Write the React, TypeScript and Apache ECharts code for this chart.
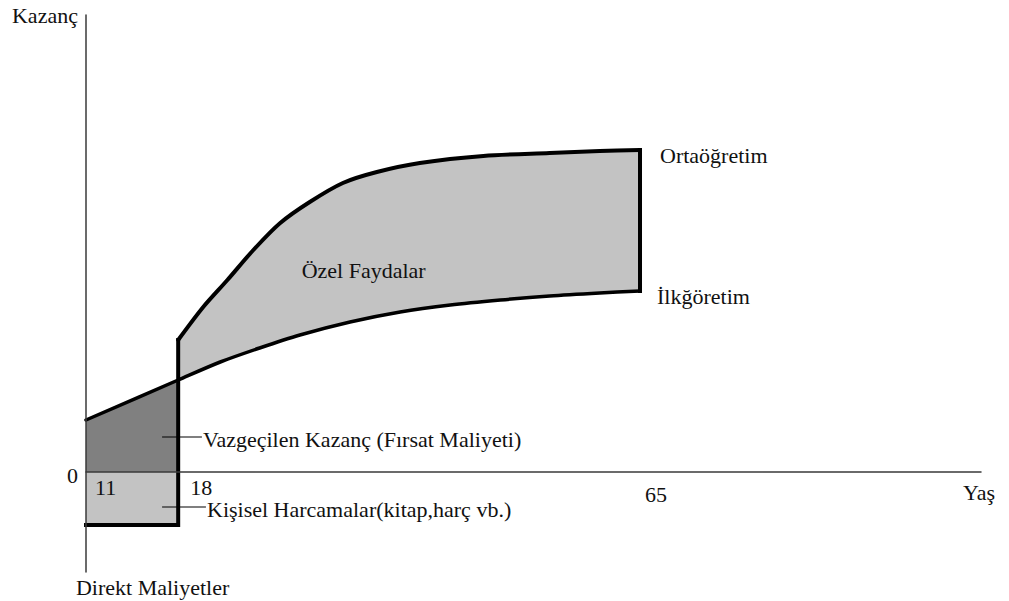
import React, { useEffect, useRef } from "react";
import * as echarts from "echarts";

// Schematic age positions on the horizontal axis (age 11, 18, 65)
const ageTickLabels = ["11", "18", "65"];
const ageTickPos = [0, 10.3, 61.9];

// İlköğretim (primary education) earnings profile
const primaryX = [0, 10.3, 15, 19.4, 23.9, 29.5, 35.1, 40.7, 46.3, 51.8, 57.4, 61.9];
const primaryY = [10.4, 18.4, 22, 24.8, 27.4, 30, 32, 33.4, 34.4, 35.2, 35.8, 36.2];

// Ortaöğretim (secondary education) earnings profile, from age 18 to 65
const secondaryX = [10.3, 13.1, 15.8, 18.7, 21.7, 25.0, 28.7, 32.5, 37.3, 44.4, 51.8, 57.4, 61.9];
const secondaryY = [26.4, 33, 38.4, 44.4, 49.8, 54, 57.8, 60, 61.8, 63.2, 63.8, 64.2, 64.4];

// Direct costs level (below zero) during schooling
const directCost = -10.6;

export default function App() {
  const ref = useRef<HTMLDivElement>(null);

  useEffect(() => {
    document.body.style.margin = "0";
    const chart = echarts.init(ref.current!, null, { renderer: "svg" });

    const start = ageTickPos[0];
    const s18 = ageTickPos[1];
    const s65 = ageTickPos[2];
    const lastP = primaryY[primaryY.length - 1];
    const lastS = secondaryY[secondaryY.length - 1];

    const primaryPts = primaryX.map((x, i) => [x, primaryY[i]]);
    const secondaryPts = secondaryX.map((x, i) => [x, secondaryY[i]]);

    const benefitPoly = [
      ...secondaryPts,
      [s65, lastP],
      ...primaryPts.filter((p) => p[0] >= s18).reverse(),
    ];
    const forgonePoly = [
      [start, 0],
      ...primaryPts.filter((p) => p[0] <= s18),
      [s18, 0],
    ];
    const directPoly = [
      [start, 0],
      [s18, 0],
      [s18, directCost],
      [start, directCost],
    ];

    const poly = (name: string, pts: number[][], color: string) => ({
      type: "custom",
      name,
      data: [0],
      z: 1,
      silent: true,
      renderItem: (_p: any, api: any) => ({
        type: "polygon",
        shape: { points: pts.map((p) => api.coord(p)) },
        style: { fill: color, stroke: null },
      }),
    });

    const fontStr = '22px "Liberation Serif", "Times New Roman", serif';
    const textColor = "#111";

    // label: [text, dataX, dataY, pixel dx, pixel dy]
    const labels: [string, number, number, number, number][] = [
      ["Kazanç", -8.27, 91.3, 0, 0],
      ["Direkt Maliyetler", -1.12, -23.1, 0, 0],
      ["0", -2.12, -0.7, 0, 0],
      [ageTickLabels[0], ageTickPos[0], -3.1, 9, 0],
      [ageTickLabels[1], ageTickPos[1], -3.1, 12, 0],
      [ageTickLabels[2], ageTickPos[2], -4.5, 5, 0],
      ["Yaş", 98.0, -4.1, 0, 0],
      ["Ortaöğretim", s65, lastS, 20, 5.5],
      ["İlkğöretim", s65, lastP, 17, 5.5],
      ["Özel Faydalar", 24.1, 40.3, 0, 0],
      ["Vazgeçilen Kazanç (Fırsat Maliyeti)", 13.07, 6.5, 0, 0],
      ["Kişisel Harcamalar(kitap,harç vb.)", 13.52, -7.5, 0, 0],
    ];

    // leader lines: [x1, x2, y]
    const leaders: [number, number, number][] = [
      [8.5, 12.95, 7],
      [8.5, 13.4, -7],
    ];

    const bold = { color: "#000", width: 4, cap: "square", join: "miter" };

    const option: any = {
      animation: false,
      grid: { left: 86, right: 28, top: 15, bottom: 29 },
      xAxis: {
        type: "value",
        min: 0,
        max: 100,
        z: 10,
        axisLine: { show: true, onZero: true, lineStyle: { color: "#3a3a3a", width: 1.5 } },
        axisTick: { show: false },
        axisLabel: { show: false },
        splitLine: { show: false },
      },
      yAxis: {
        type: "value",
        min: -20,
        max: 91.4,
        z: 10,
        axisLine: { show: true, lineStyle: { color: "#3a3a3a", width: 1.5 } },
        axisTick: { show: false },
        axisLabel: { show: false },
        splitLine: { show: false },
      },
      series: [
        poly("Özel Faydalar", benefitPoly, "#c3c3c3"),
        poly("Vazgeçilen Kazanç", forgonePoly, "#808080"),
        poly("Kişisel Harcamalar", directPoly, "#c3c3c3"),
        {
          type: "line",
          name: "İlkğöretim",
          data: primaryPts,
          symbol: "none",
          smooth: 0.3,
          clip: false,
          z: 3,
          lineStyle: { color: "#000", width: 3.5, cap: "round" },
        },
        {
          type: "line",
          name: "Ortaöğretim",
          data: secondaryPts,
          symbol: "none",
          smooth: 0.3,
          clip: false,
          z: 3,
          lineStyle: { color: "#000", width: 4, cap: "round" },
        },
        {
          type: "line",
          name: "Direkt Maliyetler",
          data: [[start, directCost], [s18, directCost], [s18, secondaryY[0]]],
          symbol: "none",
          clip: false,
          z: 3,
          lineStyle: bold,
        },
        {
          type: "line",
          name: "65",
          data: [[s65, lastS], [s65, lastP]],
          symbol: "none",
          clip: false,
          z: 3,
          lineStyle: bold,
        },
        {
          type: "custom",
          name: "leaders",
          data: [0],
          z: 4,
          silent: true,
          renderItem: (_p: any, api: any) => ({
            type: "group",
            children: leaders.map(([x1, x2, y]) => {
              const a = api.coord([x1, y]);
              const b = api.coord([x2, y]);
              return {
                type: "line",
                shape: { x1: a[0], y1: a[1], x2: b[0], y2: b[1] },
                style: { stroke: "#000", lineWidth: 1.2 },
              };
            }),
          }),
        },
        {
          type: "custom",
          name: "labels",
          data: [0],
          z: 5,
          silent: true,
          renderItem: (_p: any, api: any) => ({
            type: "group",
            children: labels.map(([t, x, y, dx, dy]) => {
              const c = api.coord([x, y]);
              return {
                type: "text",
                x: c[0] + dx,
                y: c[1] + dy,
                style: {
                  text: t,
                  fill: textColor,
                  font: fontStr,
                  align: "left",
                  verticalAlign: "middle",
                },
              };
            }),
          }),
        },
      ],
    };

    chart.setOption(option);
    return () => chart.dispose();
  }, []);

  return <div ref={ref} style={{ width: 1009, height: 601 }} />;
}
